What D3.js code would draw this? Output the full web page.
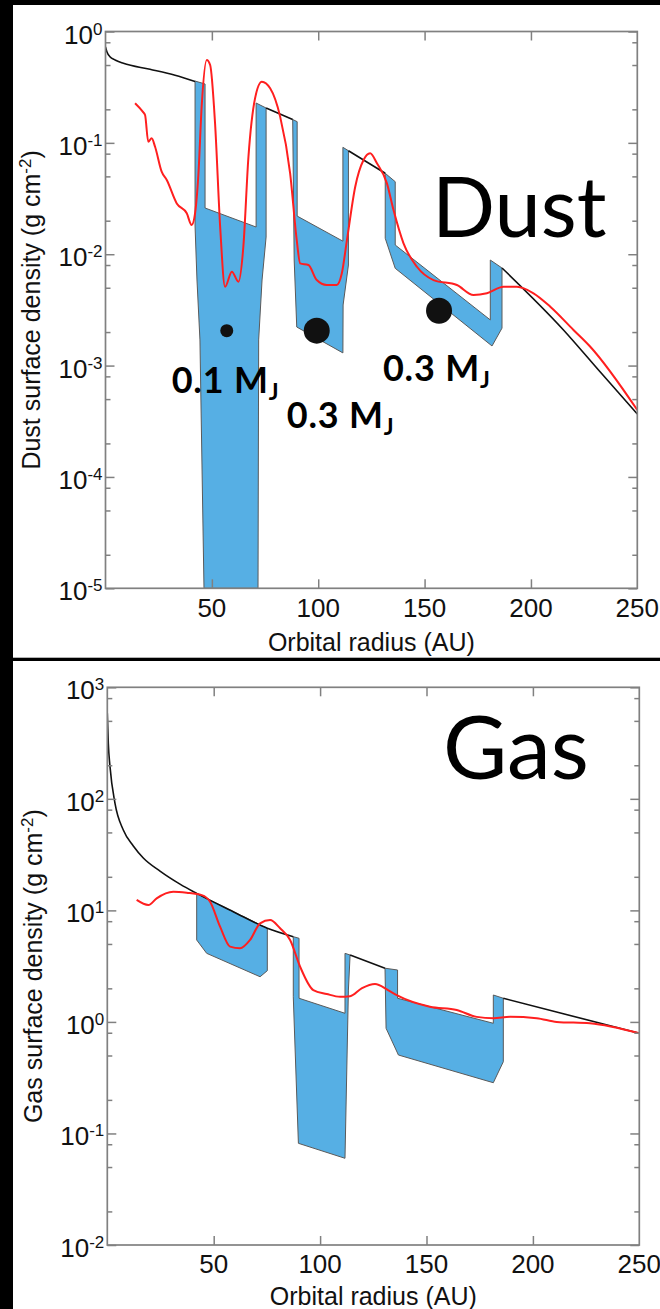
<!DOCTYPE html>
<html>
<head>
<meta charset="utf-8">
<script src="https://cdn.jsdelivr.net/npm/d3@7"></script>
<style>
html, body { margin: 0; padding: 0; background: #000; }
svg { display: block; }
</style>
</head>
<body>
<svg id="chart" width="660" height="1309"></svg>
<script>
// ---- dust panel data (r in AU, sigma in g cm^-2) ----
const dustModelR = [0, 0.7, 2.1, 4.5, 8.4, 20.9, 32.7, 42.1, null, 75.5, 88.0, null, 114.2, 131.5, null, 186.4, 215.3, 232.6, 250];
const dustModelSigma = [0.726, 0.655, 0.594, 0.555, 0.518, 0.4575, 0.404, 0.3556, null, 0.2056, 0.162, null, 0.085, 0.0533, null, 0.00752, 0.00209, 0.000875, 0.000367];

const dustGapR = [
  [42.1, 46.8, 46.8, 70.8, 70.8, 75.5, 75.5, 73.6, 72.0, 71.7, 46.3, 44.4, 43.0, 42.1],
  [88.0, 90.1, 90.1, 111.6, 111.6, 114.2, 114.2, 111.7, 111.6, 89.9, 88.7],
  [131.5, 136.2, 136.2, 180.9, 180.9, 186.4, 186.4, 181.7, 136.2, 131.5]
];
const dustGapSigma = [
  [0.359, 0.3377, 0.026, 0.01755, 0.228, 0.2056, 0.01427, 0.00587, 0.0017, 1e-5, 1e-5, 0.0017, 0.00587, 0.0179],
  [0.162, 0.155, 0.022, 0.0131, 0.0912, 0.085, 0.008, 0.0035, 0.0013, 0.00222, 0.00887],
  [0.0533, 0.0448, 0.0121, 0.00257, 0.00887, 0.00752, 0.00217, 0.0015, 0.00747, 0.0139]
];

const dustObsR = [13.9, 17.5, 18.6, 20.1, 21.7, 23.3, 26.4, 28.8, 33.5, 38.2, 40.5, 42.1, 43.7, 45.2, 47.6, 49.2, 51.5, 53.9, 56.2, 59.4, 62.5, 64.8, 67.2, 70.3, 73.5, 77.4, 82.1, 86.8, 89.9, 91.5, 95.4, 99.3, 104.0, 108.7, 111.1, 113.5, 117.4, 121.3, 124.4, 127.6, 132.3, 135.4, 140.1, 146.4, 154.2, 165.2, 173.0, 179.3, 187.1, 193.4, 201.2, 209.1, 220.0, 227.9, 250];
const dustObsSigma = [0.2265, 0.1905, 0.178, 0.1023, 0.1099, 0.0923, 0.0551, 0.0464, 0.0286, 0.0233, 0.0183, 0.0233, 0.0533, 0.211, 0.555, 0.5, 0.15, 0.01766, 0.0051, 0.00697, 0.00566, 0.01168, 0.0751, 0.251, 0.354, 0.309, 0.172, 0.0533, 0.0134, 0.00828, 0.008, 0.00586, 0.00529, 0.00529, 0.00674, 0.0134, 0.0404, 0.0701, 0.0805, 0.0655, 0.0433, 0.0249, 0.01253, 0.00772, 0.00586, 0.00529, 0.0043, 0.00446, 0.0051, 0.0051, 0.00446, 0.00338, 0.00209, 0.001477, 0.000399];

// planets
const planetR = [57, 99.3, 156.8];
const planetSigma = [0.00206, 0.00206, 0.00311];
const planetMass = [0.1, 0.3, 0.3];
const planetLabelR = [31.1, 85.2, 130.4];
const planetLabelSigma = [0.000563, 0.000273, 0.000731];

// ---- gas panel data ----
const gasModelR = [0, 0.47, 1.27, 3.62, 7.52, 12.22, 16.92, 24.77, 34.16, 42.0, 59.2, 75.2, 87.4, null, 114.1, 130.5, null, 186.1, 250];
const gasModelSigma = [584.6, 314.7, 194.2, 91.2, 52.5, 37.8, 29.5, 22.5, 17.2, 14.2, 9.73, 6.91, 5.81, null, 3.98, 3.03, null, 1.63, 0.79];

const gasGapR = [
  [42.0, 59.2, 75.2, 75.2, 71.8, 46.7, 42.0],
  [87.4, 90.1, 90.1, 111.7, 111.7, 114.1, 113.3, 111.7, 89.8, 87.4],
  [130.5, 136.4, 136.4, 181.4, 181.4, 186.1, 186.1, 181.4, 136.8, 131.0]
];
const gasGapSigma = [
  [14.2, 9.73, 6.91, 2.88, 2.54, 4.12, 5.43],
  [5.81, 5.62, 1.63, 1.195, 4.12, 3.98, 1.93, 0.0599, 0.0816, 1.68],
  [3.03, 2.92, 1.63, 0.972, 1.743, 1.63, 0.44, 0.285, 0.505, 0.877]
];

const gasObsR = [13.8, 19.3, 23.2, 31.0, 37.3, 44.4, 48.3, 53.0, 57.7, 62.4, 67.1, 71.8, 76.5, 81.2, 85.9, 90.6, 96.8, 103.1, 109.4, 114.1, 119.7, 125.8, 131.9, 136.0, 151.6, 164.2, 173.6, 181.4, 189.2, 201.8, 211.2, 226.8, 250];
const gasObsSigma = [12.4, 11.17, 12.83, 14.7, 14.4, 13.7, 11.96, 7.14, 4.73, 4.57, 5.43, 7.66, 8.2, 6.91, 5.43, 3.13, 1.93, 1.78, 1.68, 1.7, 2.01, 2.19, 1.93, 1.74, 1.37, 1.28, 1.11, 1.08, 1.11, 1.08, 1.0, 0.972, 0.79];

const xTicks = [50, 100, 150, 200, 250];

const svg = d3.select('#chart');
const tickFont = '"Liberation Sans", Arial, sans-serif';
const axisGray = '#808080';

// white panels on black background
svg.append('rect').attr('x', 13).attr('y', 5).attr('width', 647).attr('height', 652.7).attr('fill', '#fff');
svg.append('rect').attr('x', 13).attr('y', 661).attr('width', 647).attr('height', 648).attr('fill', '#fff');

function zip(rs, ss) {
  return rs.map((r, i) => ({ r, s: ss[i] }));
}

function drawPanel(cfg) {
  const x = d3.scaleLinear().domain([0, 250]).range([cfg.left, cfg.right]);
  const y = d3.scaleLog().domain(cfg.yDomain).range([cfg.bottom, cfg.top]);
  const g = svg.append('g');

  const clipId = 'clip-' + cfg.name;
  g.append('clipPath').attr('id', clipId)
    .append('rect')
    .attr('x', cfg.left).attr('y', cfg.top)
    .attr('width', cfg.right - cfg.left).attr('height', cfg.bottom - cfg.top);

  const plot = g.append('g').attr('clip-path', `url(#${clipId})`);

  // shaded gap ranges
  const poly = d3.line().x(d => x(d.r)).y(d => y(d.s));
  cfg.gapR.forEach((rs, i) => {
    plot.append('path')
      .attr('d', poly(zip(rs, cfg.gapSigma[i])) + 'Z')
      .attr('fill', '#56afe4')
      .attr('stroke', '#5a5a5a')
      .attr('stroke-width', 1);
  });

  // unperturbed model (black), broken at the gaps
  const modelLine = d3.line()
    .defined(d => d.r !== null && d.s !== null)
    .curve(d3.curveMonotoneX)
    .x(d => x(d.r)).y(d => y(d.s));
  plot.append('path')
    .attr('d', modelLine(zip(cfg.modelR, cfg.modelSigma)))
    .attr('fill', 'none')
    .attr('stroke', '#111')
    .attr('stroke-width', 1.6);

  // observed profile (red)
  const obsLine = d3.line().curve(d3.curveMonotoneX)
    .x(d => x(d.r)).y(d => y(d.s));
  plot.append('path')
    .attr('d', obsLine(zip(cfg.obsR, cfg.obsSigma)))
    .attr('fill', 'none')
    .attr('stroke', '#ff1f1f')
    .attr('stroke-width', 2);

  // frame
  g.append('rect')
    .attr('x', cfg.left).attr('y', cfg.top)
    .attr('width', cfg.right - cfg.left).attr('height', cfg.bottom - cfg.top)
    .attr('fill', 'none').attr('stroke', axisGray).attr('stroke-width', 1.7);

  // log ticks: majors every decade, minors at 2, 5, 8
  const lo = Math.round(Math.log10(cfg.yDomain[0]));
  const hi = Math.round(Math.log10(cfg.yDomain[1]));
  const majors = d3.range(lo, hi + 1).map(e => Math.pow(10, e));
  const minors = [];
  d3.range(lo, hi).forEach(e => [2, 5, 8].forEach(m => minors.push(m * Math.pow(10, e))));

  function tickAxis(axis, tx, ty) {
    g.append('g')
      .attr('transform', `translate(${tx},${ty})`)
      .call(axis.tickFormat(''))
      .call(a => a.select('.domain').remove())
      .call(a => a.selectAll('line').attr('stroke', axisGray).attr('stroke-width', 1.5));
  }
  tickAxis(d3.axisLeft(y).tickValues(majors).tickSize(-9), cfg.left, 0);
  tickAxis(d3.axisLeft(y).tickValues(minors).tickSize(-5), cfg.left, 0);
  tickAxis(d3.axisRight(y).tickValues(majors).tickSize(-9), cfg.right, 0);
  tickAxis(d3.axisRight(y).tickValues(minors).tickSize(-5), cfg.right, 0);
  tickAxis(d3.axisBottom(x).tickValues(xTicks.slice(0, -1)).tickSize(-9), 0, cfg.bottom);
  tickAxis(d3.axisTop(x).tickValues(xTicks.slice(0, -1)).tickSize(-9), 0, cfg.top);

  // y tick labels 10^n
  majors.forEach(v => {
    const t = g.append('text')
      .attr('x', cfg.left - 3)
      .attr('y', y(v) + 12)
      .attr('text-anchor', 'end')
      .attr('font-family', tickFont)
      .attr('font-size', 26)
      .attr('fill', '#111');
    t.append('tspan').text('10');
    t.append('tspan').attr('dy', -9).attr('font-size', 17).text(Math.round(Math.log10(v)));
  });

  // x tick labels
  xTicks.forEach(v => {
    g.append('text')
      .attr('x', x(v))
      .attr('y', cfg.bottom + 28.4)
      .attr('text-anchor', 'middle')
      .attr('font-family', tickFont)
      .attr('font-size', 26)
      .attr('fill', '#111')
      .text(v);
  });

  // axis titles
  g.append('text')
    .attr('x', (cfg.left + cfg.right) / 2)
    .attr('y', cfg.bottom + cfg.xTitleDy)
    .attr('text-anchor', 'middle')
    .attr('font-family', tickFont)
    .attr('font-size', 25)
    .attr('fill', '#111')
    .text('Orbital radius (AU)');

  const yt = g.append('text')
    .attr('transform', `translate(${cfg.yTitleX},${(cfg.top + cfg.bottom) / 2}) rotate(-90)`)
    .attr('text-anchor', 'middle')
    .attr('font-family', tickFont)
    .attr('font-size', 25)
    .attr('fill', '#111');
  yt.append('tspan').text(cfg.yTitle + ' (g cm');
  yt.append('tspan').attr('dy', -9).attr('font-size', 17).text('-2');
  yt.append('tspan').attr('dy', 9).text(')');

  // big panel name
  g.append('text')
    .attr('x', cfg.nameX).attr('y', cfg.nameY)
    .attr('font-family', 'Lato, "Open Sans", sans-serif')
    .attr('font-weight', 400)
    .attr('font-size', cfg.nameSize)
    .attr('fill', '#000')
    .text(cfg.name);

  return { g, x, y };
}

const dust = drawPanel({
  name: 'Dust', yTitle: 'Dust surface density',
  left: 105.5, right: 637.3, top: 31.5, bottom: 588.3,
  yDomain: [1e-5, 1], yTitleX: 40, xTitleDy: 63,
  nameX: 432, nameY: 237, nameSize: 83,
  modelR: dustModelR, modelSigma: dustModelSigma,
  gapR: dustGapR, gapSigma: dustGapSigma,
  obsR: dustObsR, obsSigma: dustObsSigma
});

drawPanel({
  name: 'Gas', yTitle: 'Gas surface density',
  left: 107.3, right: 639.3, top: 687.3, bottom: 1245,
  yDomain: [1e-2, 1e3], yTitleX: 42, xTitleDy: 60,
  nameX: 443, nameY: 779, nameSize: 88,
  modelR: gasModelR, modelSigma: gasModelSigma,
  gapR: gasGapR, gapSigma: gasGapSigma,
  obsR: gasObsR, obsSigma: gasObsSigma
});

// planets and their mass labels
const dotSize = d3.scaleLinear().domain([0.1, 0.3]).range([6.5, 13]);
planetR.forEach((r, i) => {
  dust.g.append('circle')
    .attr('cx', dust.x(r))
    .attr('cy', dust.y(planetSigma[i]))
    .attr('r', dotSize(planetMass[i]))
    .attr('fill', '#111');

  const t = dust.g.append('text')
    .attr('x', dust.x(planetLabelR[i]))
    .attr('y', dust.y(planetLabelSigma[i]))
    .attr('font-family', 'Lato, "Open Sans", sans-serif')
    .attr('font-weight', 'bold')
    .attr('font-size', 36)
    .attr('letter-spacing', 0.8)
    .attr('fill', '#000');
  t.append('tspan').text(planetMass[i] + ' M');
  t.append('tspan').attr('dy', 7).attr('font-size', 23).text('J');
});
</script>
</body>
</html>
